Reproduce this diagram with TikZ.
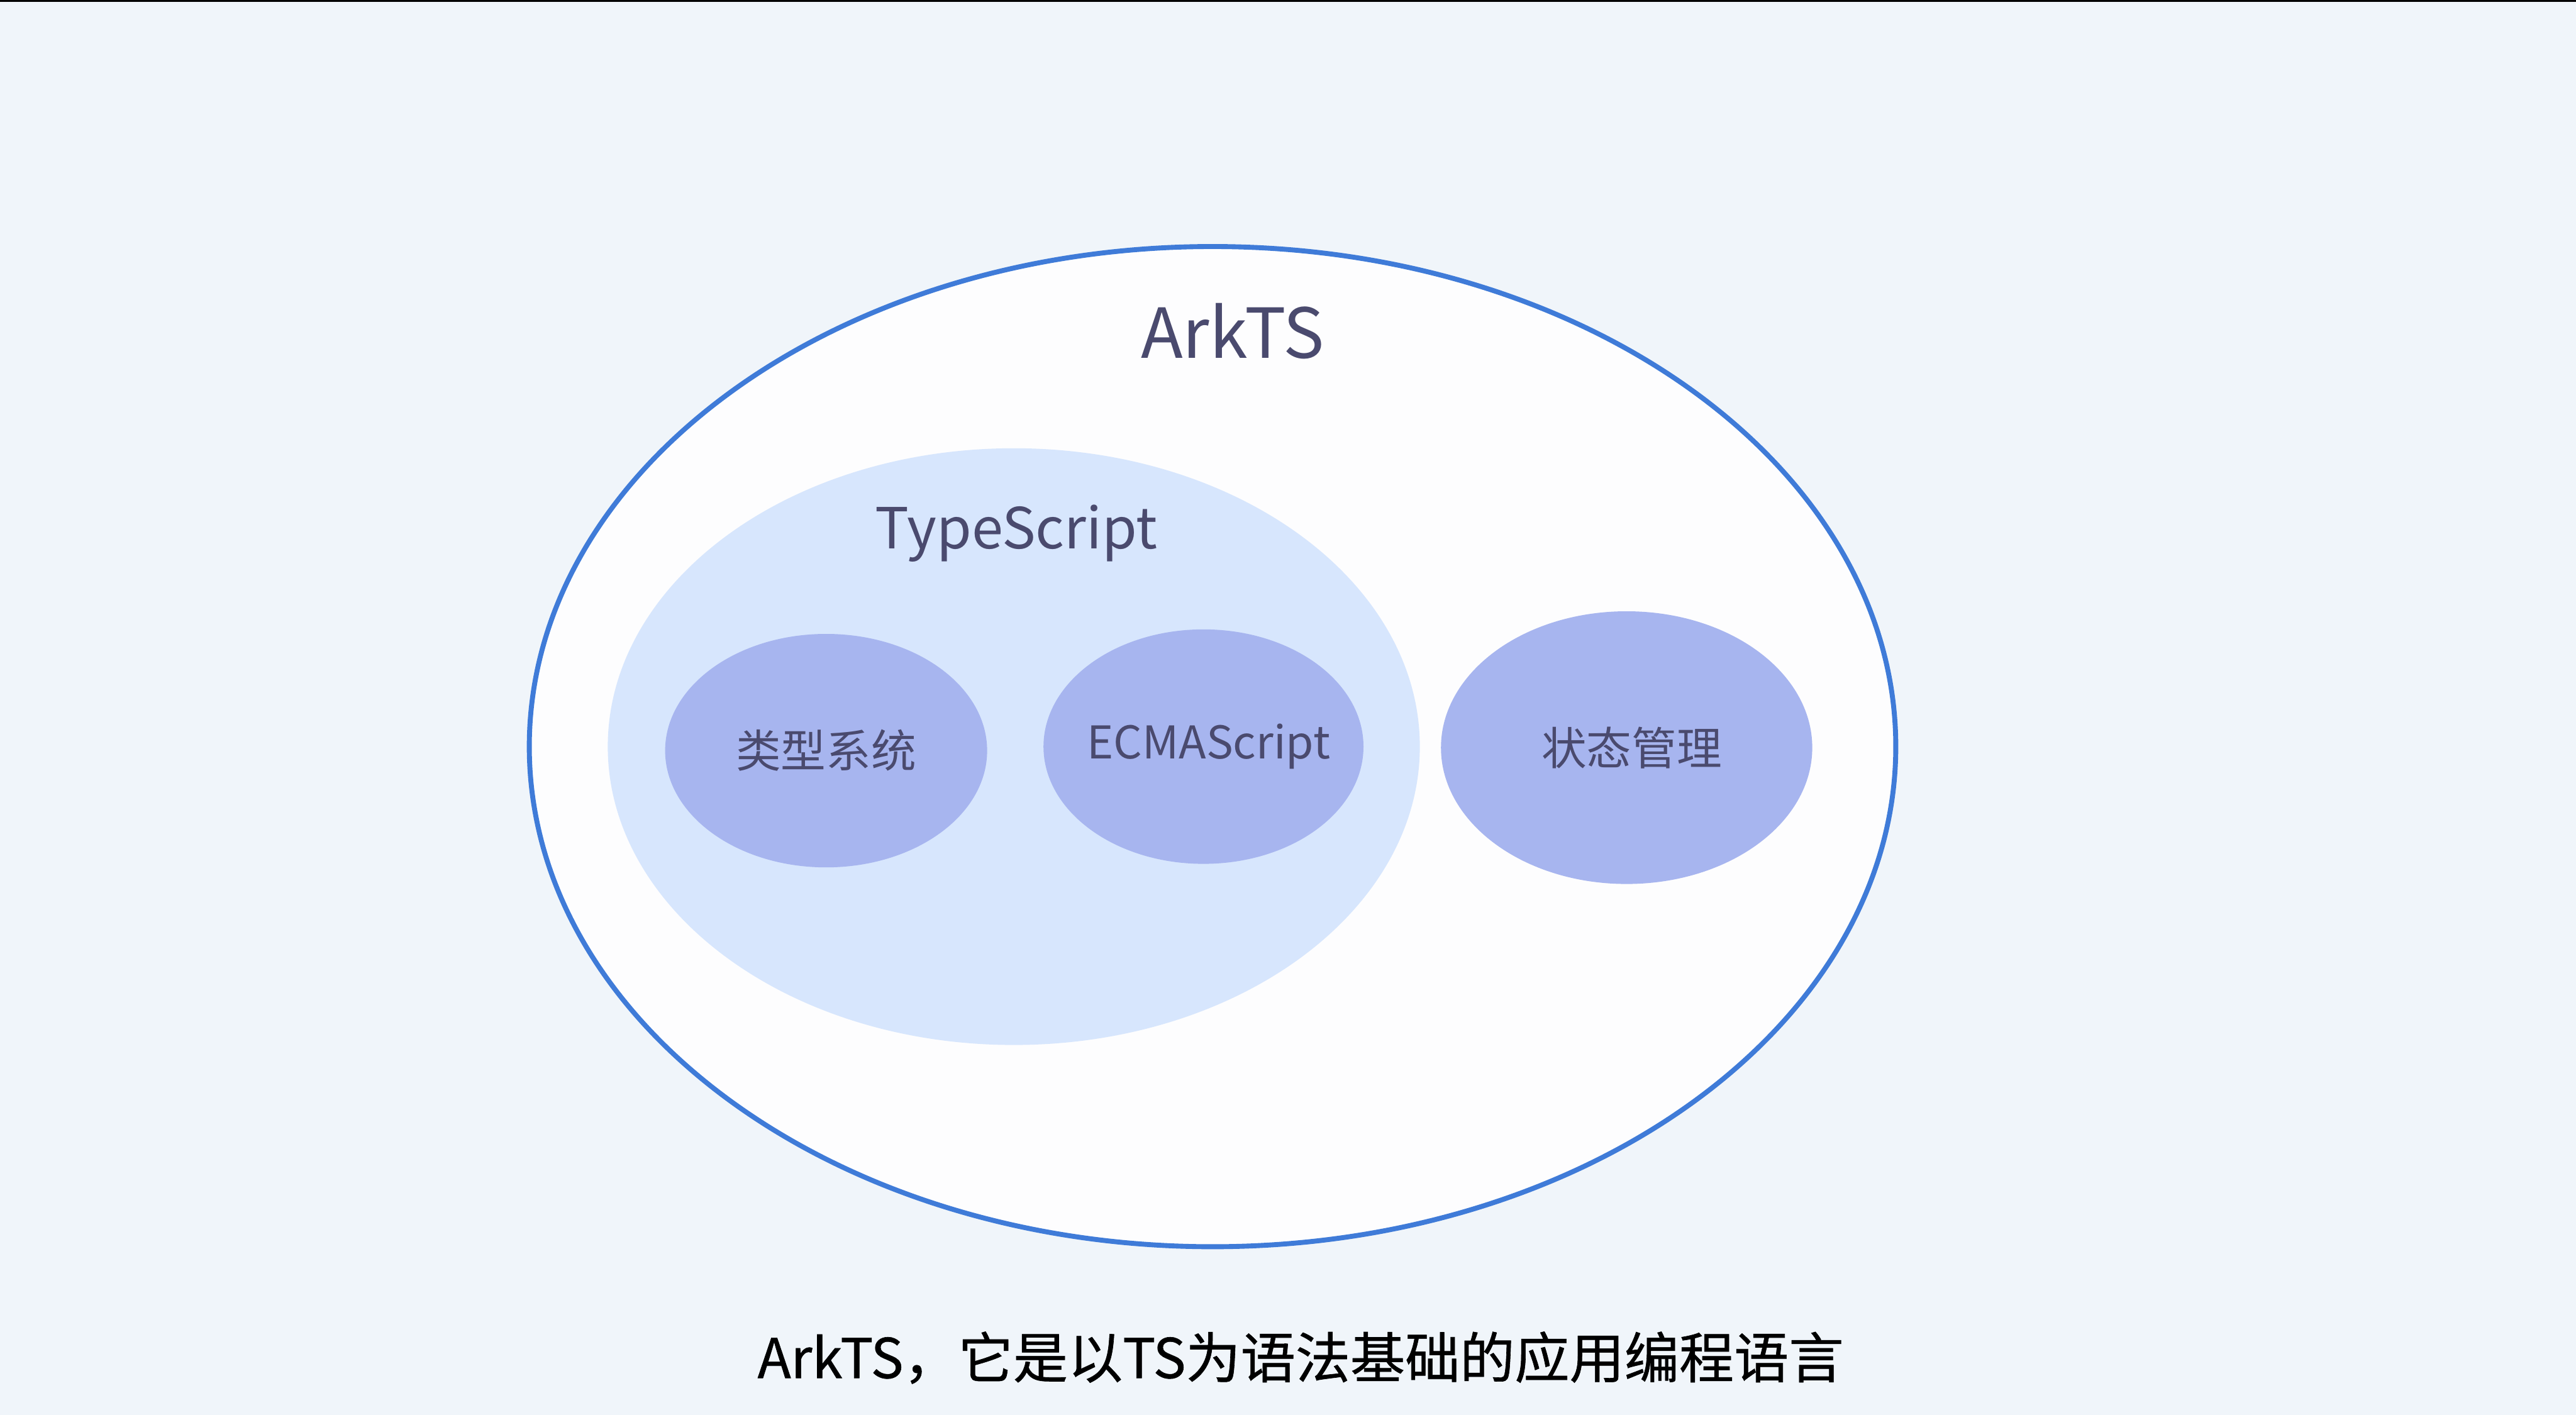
\documentclass[tikz,border=0pt]{standalone}
\usepackage{fontspec}
\setmainfont{Noto Sans CJK SC}
\newfontfamily\capfont[FakeBold=0.7]{Noto Sans CJK SC}
\usetikzlibrary{shapes.geometric}
\definecolor{bgc}{HTML}{F0F5FA}
\definecolor{outerfill}{HTML}{FDFDFE}
\definecolor{outerline}{HTML}{3F7BD8}
\definecolor{tsfill}{HTML}{D7E6FD}
\definecolor{innerfill}{HTML}{A7B5EF}
\definecolor{txt}{HTML}{4A4A6E}
\tikzset{
  innerblob/.style={ellipse, fill=innerfill, inner sep=0pt},
  innertext/.style={text=txt, font=\fontsize{25.5}{30}\selectfont},
}
\begin{document}
\begin{tikzpicture}[x=1cm,y=1cm]
\useasboundingbox (0,0) rectangle (51.2,-28.12);
\fill[bgc] (0,0) rectangle (51.2,-28.12);
\fill[black] (0,0) rectangle (51.2,-0.04);
% outer ellipse ArkTS
\node[ellipse, draw=outerline, line width=2.8pt, fill=outerfill,
  minimum width=27.16cm, minimum height=19.88cm, inner sep=0pt] (ark) at (24.10,-14.84) {};
\node[text=txt, font=\fontsize{39}{46}\selectfont, anchor=base] (arklabel) at (24.50,-7.12) {ArkTS};
% TypeScript ellipse
\node[ellipse, fill=tsfill, minimum width=16.14cm, minimum height=11.86cm, inner sep=0pt] (ts) at (20.15,-14.84) {};
\node[text=txt, font=\fontsize{32}{38}\selectfont, anchor=base] (tslabel) at (20.20,-10.90) {TypeScript};
% inner ellipses
\node[innerblob, minimum width=6.40cm, minimum height=4.64cm] (type) at (16.42,-14.92) {};
\node[innertext] (typelabel) at (type.center) {类型系统};
\node[innerblob, minimum width=6.36cm, minimum height=4.66cm] (ecma) at (23.92,-14.84) {};
\node[innertext] (ecmalabel) at ([xshift=0.1cm]ecma.center) {ECMAScript};
\node[innerblob, minimum width=7.38cm, minimum height=5.42cm] (state) at (32.33,-14.86) {};
\node[innertext] (statelabel) at ([xshift=0.1cm]state.center) {状态管理};
% caption
\node[text=black, font=\capfont\fontsize{31}{37}\selectfont, anchor=base] (caption) at (25.85,-27.39) {ArkTS，它是以TS为语法基础的应用编程语言};
\end{tikzpicture}
\end{document}
